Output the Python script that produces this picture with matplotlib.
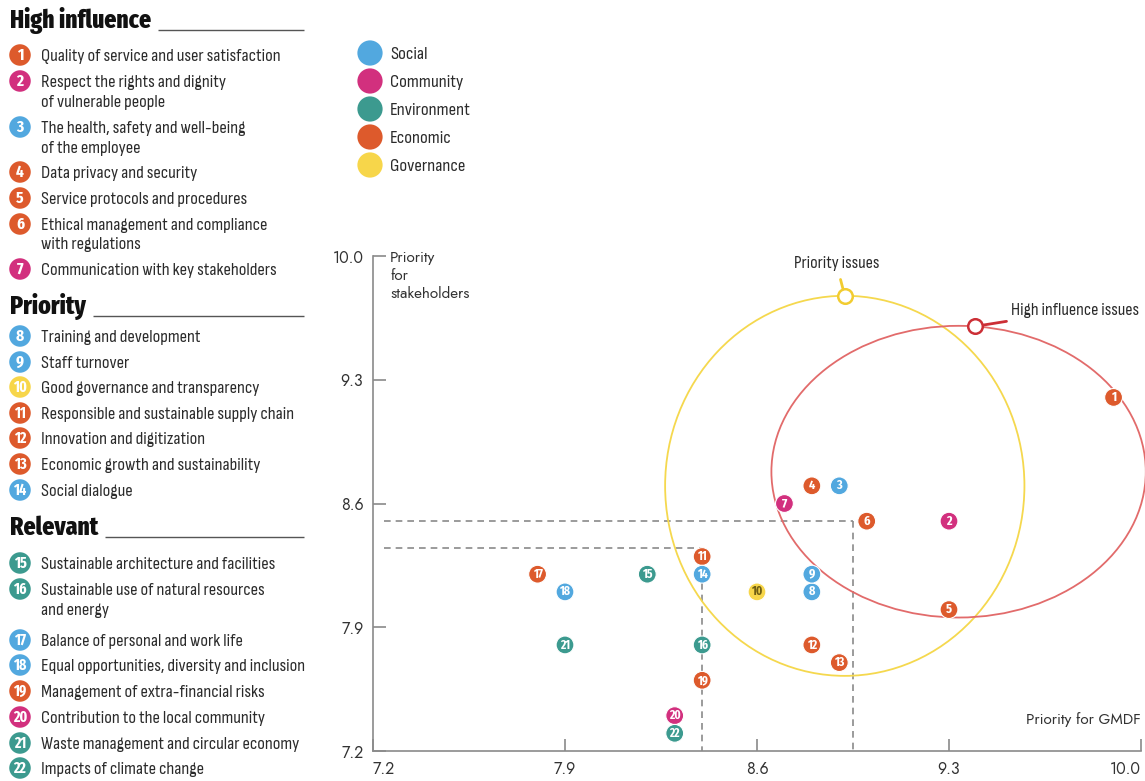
import matplotlib
matplotlib.use("Agg")
import matplotlib.pyplot as plt
from matplotlib.patches import Ellipse
import numpy as np

W, H = 1145, 781
COND = ["Sofia Sans Condensed", "DejaVu Sans"]
BOLD = ["Fira Sans Extra Condensed", "DejaVu Sans"]
GEO = ["Jost", "DejaVu Sans"]

# ---- data -----------------------------------------------------------------
group_names = ["Social", "Community", "Environment", "Economic", "Governance"]
group_colors = ["#52A8DF", "#D2307E", "#3C9A8F", "#DD5A2C", "#F7D64A"]

tier_names = ["High influence", "Priority", "Relevant"]
tier_members = [[1, 2, 3, 4, 5, 6, 7],
                [8, 9, 10, 11, 12, 13, 14],
                [15, 16, 17, 18, 19, 20, 21, 22]]

issue_ids = list(range(1, 23))
issue_labels = [
    "Quality of service and user satisfaction",
    "Respect the rights and dignity\nof vulnerable people",
    "The health, safety and well-being\nof the employee",
    "Data privacy and security",
    "Service protocols and procedures",
    "Ethical management and compliance\nwith regulations",
    "Communication with key stakeholders",
    "Training and development",
    "Staff turnover",
    "Good governance and transparency",
    "Responsible and sustainable supply chain",
    "Innovation and digitization",
    "Economic growth and sustainability",
    "Social dialogue",
    "Sustainable architecture and facilities",
    "Sustainable use of natural resources\nand energy",
    "Balance of personal and work life",
    "Equal opportunities, diversity and inclusion",
    "Management of extra-financial risks",
    "Contribution to the local community",
    "Waste management and circular economy",
    "Impacts of climate change",
]
# group of each issue as plotted on the matrix
point_groups = ["Economic", "Community", "Social", "Economic", "Economic", "Economic",
                "Community", "Social", "Social", "Governance", "Economic", "Economic",
                "Economic", "Social", "Environment", "Environment", "Economic", "Social",
                "Economic", "Community", "Environment", "Environment"]
# group of each issue as shown in the side list
list_groups = ["Economic", "Community", "Social", "Economic", "Economic", "Economic",
               "Community", "Social", "Social", "Governance", "Economic", "Economic",
               "Economic", "Social", "Environment", "Environment", "Social", "Social",
               "Economic", "Community", "Environment", "Environment"]

gmdf_priority = [9.9, 9.3, 8.9, 8.8, 9.3, 9.0, 8.7, 8.8, 8.8, 8.6, 8.4, 8.8,
                 8.9, 8.4, 8.2, 8.4, 7.8, 7.9, 8.4, 8.3, 7.9, 8.3]
stakeholder_priority = [9.2, 8.5, 8.7, 8.7, 8.0, 8.5, 8.6, 8.1, 8.2, 8.1, 8.3, 7.8,
                        7.7, 8.2, 8.2, 7.8, 8.2, 8.1, 7.6, 7.4, 7.8, 7.3]

axis_ticks = [7.2, 7.9, 8.6, 9.3, 10.0]
tick_labels = ["7.2", "7.9", "8.6", "9.3", "10.0"]

# thresholds (GMDF, stakeholders) bounding the relevant and priority zones
relevant_limit = (8.4, 8.35)
priority_limit = (8.95, 8.5)

# issue clusters: centre (x, y), width, height
priority_zone = ((8.92, 8.70), 1.31, 2.15)
influence_zone = ((9.335, 8.78), 1.365, 1.65)

color_of = dict(zip(group_names, group_colors))

# ---- figure ---------------------------------------------------------------
fig = plt.figure(figsize=(W / 100, H / 100), dpi=100)

# overlay in pixel coordinates for the side list and legend
ov = fig.add_axes([0, 0, 1, 1])
ov.set_xlim(0, W)
ov.set_ylim(H, 0)
ov.axis("off")

TEXT_C = "#2b2b2b"
heading_y = [21, 307, 528]
row_y = {1: 55, 2: 81, 3: 127, 4: 172, 5: 198, 6: 224, 7: 269,
         8: 336, 9: 362, 10: 387, 11: 413, 12: 438, 13: 464, 14: 490,
         15: 563, 16: 589, 17: 640, 18: 665, 19: 691, 20: 717, 21: 743, 22: 768}

renderer = fig.canvas.get_renderer()
for name, hy, members in zip(tier_names, heading_y, tier_members):
    t = ov.text(10, hy, name, fontsize=18.5, fontweight=800, family=BOLD,
                color="#111111", va="center", ha="left")
    bb = t.get_window_extent(renderer)
    x_end = bb.x1 + 7
    ov.plot([x_end, 304], [hy + 9, hy + 9], color="#555555", lw=1.0,
            solid_capstyle="butt")
    for i in members:
        y0 = row_y[i]
        c = color_of[list_groups[i - 1]]
        ov.scatter([20], [y0], s=240, color=c, edgecolors="none", zorder=3)
        ov.text(20, y0 + 0.5, str(i), fontsize=12 if i < 10 else 11,
                fontweight="bold", family=BOLD, color="white",
                ha="center", va="center", zorder=4)
        for j, line in enumerate(issue_labels[i - 1].split("\n")):
            ov.text(41, y0 + 1.5 + j * 19.5, line, fontsize=13.3, family=COND,
                    color=TEXT_C, ha="left", va="center")

# legend of groups
for k, (g, c) in enumerate(zip(group_names, group_colors)):
    y = 53 + k * 28
    ov.scatter([370], [y], s=330, color=c, edgecolors="none")
    ov.text(390, y + 1.5, g, fontsize=13.5, family=COND, color=TEXT_C,
            ha="left", va="center")

# ---- matrix ---------------------------------------------------------------
ax = fig.add_axes([373 / W, 30 / H, 768 / W, 495 / H])
ax.set_xlim(axis_ticks[0], axis_ticks[-1])
ax.set_ylim(axis_ticks[0], axis_ticks[-1])
for s in ("top", "right"):
    ax.spines[s].set_visible(False)
for s in ("left", "bottom"):
    ax.spines[s].set_color("#8a8a8a")
    ax.spines[s].set_linewidth(1.2)
ax.set_xticks(axis_ticks)
ax.set_xticklabels(tick_labels)
ax.set_yticks(axis_ticks)
ax.set_yticklabels(tick_labels)
ax.tick_params(direction="in", length=9, width=1.2, color="#8a8a8a",
               labelcolor="#333333", labelsize=11.5, pad=7)
for lab in ax.get_xticklabels() + ax.get_yticklabels():
    lab.set_family(GEO)
xl = ax.get_xticklabels()
xl[0].set_ha("left")
xl[-1].set_ha("right")

ax.text(17 / 768, 1.012, "Priority\nfor\nstakeholders", transform=ax.transAxes,
        fontsize=11, family=GEO, color="#333333", ha="left", va="top",
        linespacing=1.25)
ax.text(1.0, 0.063, "Priority for GMDF", transform=ax.transAxes,
        fontsize=11, family=GEO, color="#333333", ha="right", va="center")

# zone boundaries
dash = dict(color="#8a8a8a", lw=1.2, dashes=(4, 3))
for gx, gy in (relevant_limit, priority_limit):
    ax.plot([7.24, gx], [gy, gy], **dash)
    ax.plot([gx, gx], [gy, axis_ticks[0]], **dash)

# issue clusters
YEL, RED = "#F5D84E", "#E26B6B"
(pcx, pcy), pw, ph = priority_zone
(icx, icy), iw, ih = influence_zone
ax.add_patch(Ellipse((pcx, pcy), pw, ph, fill=False, ec=YEL, lw=1.3,
                     clip_on=False, zorder=2))
ax.add_patch(Ellipse((icx, icy), iw, ih, fill=False, ec=RED, lw=1.3,
                     clip_on=False, zorder=2))

# callouts
p_top = (pcx, pcy + ph / 2)
ax.annotate("Priority issues", xy=p_top, xytext=(-6, 23), textcoords="offset points",
            fontsize=13, family=COND, color=TEXT_C, ha="center", va="center",
            arrowprops=dict(arrowstyle="-", color="#F2CC30", lw=2,
                            shrinkA=4, shrinkB=5), annotation_clip=False)
ax.scatter([p_top[0]], [p_top[1]], s=110, facecolor="white", edgecolors="#F2CC30",
           linewidths=1.8, zorder=6, clip_on=False)

ang = np.deg2rad(85)
i_pt = (icx + iw / 2 * np.cos(ang), icy + ih / 2 * np.sin(ang))
ax.annotate("High influence issues", xy=i_pt, xytext=(26, 11.5),
            textcoords="offset points", fontsize=13, family=COND, color=TEXT_C,
            ha="left", va="center",
            arrowprops=dict(arrowstyle="-", color="#CC2F36", lw=2,
                            shrinkA=3, shrinkB=5), annotation_clip=False)
ax.scatter([i_pt[0]], [i_pt[1]], s=110, facecolor="white", edgecolors="#CC2F36",
           linewidths=1.8, zorder=6, clip_on=False)

# issues
pt_colors = [color_of[g] for g in point_groups]
ax.scatter(gmdf_priority, stakeholder_priority, s=165, c=pt_colors,
           edgecolors="white", linewidths=0.8, zorder=5, clip_on=False)
for i, x, y, g in zip(issue_ids, gmdf_priority, stakeholder_priority, point_groups):
    ax.text(x, y, str(i), fontsize=9.5 if i < 10 else 9, fontweight="bold",
            family=BOLD, color="#6e5e14" if g == "Governance" else "white",
            ha="center", va="center", zorder=7)

fig.savefig("out.png", dpi=100)
